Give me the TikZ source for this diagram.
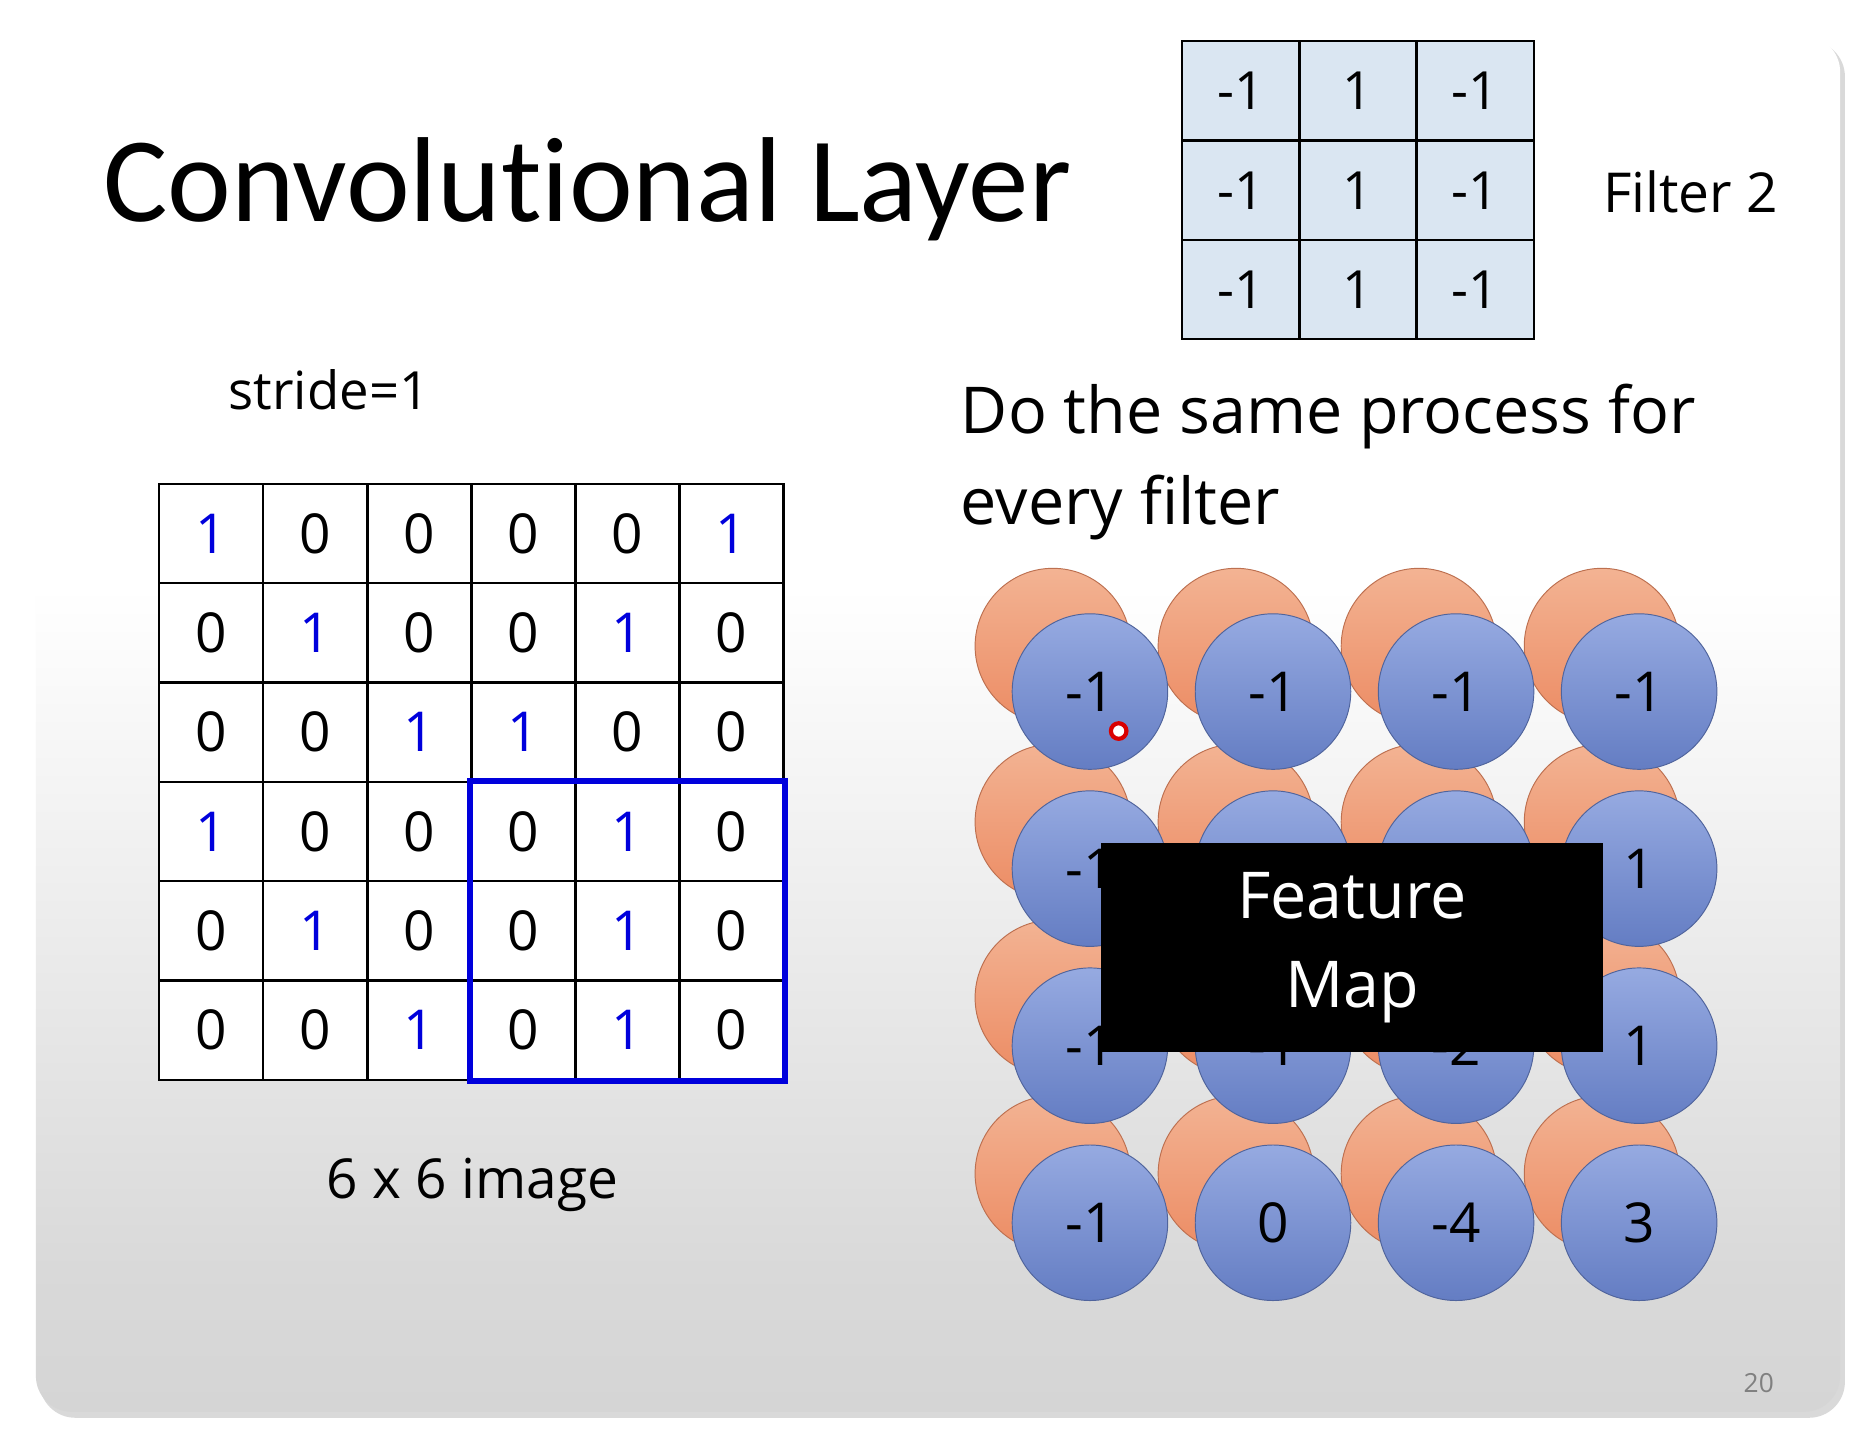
\documentclass[tikz,border=0pt]{standalone}
\usepackage{fontspec}
\setmainfont{Open Sans}
\newfontfamily\titlefont{Carlito}[Ligatures=NoCommon]
\newcommand{\fsz}[1]{\fontsize{#1}{#1}\selectfont}
\definecolor{fblue}{RGB}{218,230,242}
\definecolor{oc}{RGB}{240,160,120}
\definecolor{ocd}{RGB}{236,140,100}
\definecolor{bc}{RGB}{150,170,225}
\definecolor{bcd}{RGB}{100,125,195}
\definecolor{bblue}{RGB}{0,0,220}
\pgfdeclareverticalshading{slide}{100bp}{color(0bp)=(gray!48); color(30bp)=(gray!30); color(55bp)=(white); color(100bp)=(white)}
\begin{document}
\begin{tikzpicture}[x=1pt,y=-1pt,
  cell/.style={draw=black,fill=white,line width=2pt,minimum width=87pt,minimum height=83pt,inner sep=0pt,font=\fsz{46}},
  fcell/.style={draw=black,line width=2pt,fill=fblue,minimum width=98pt,minimum height=83pt,inner sep=0pt,font=\fsz{44}},
  oc/.style={circle,draw=ocd!80!black,line width=0.8pt,top color=oc!80!white,bottom color=ocd,minimum size=130pt,inner sep=0pt},
  bc/.style={circle,draw=bcd!80!black,line width=0.8pt,top color=bc,bottom color=bcd,minimum size=130pt,inner sep=0pt,font=\fsz{46}},
  lbl/.style={inner sep=0pt}]
\useasboundingbox (0,0) rectangle (1568,1210);
\fill[white] (0,0) rectangle (1568,1210);
\fill[gray!30,rounded corners=30pt] (33,34) rectangle (1542,1185);
\shade[shading=slide,rounded corners=30pt] (30,30) rectangle (1538,1180);
% title
\node[lbl,anchor=base west,font=\titlefont\fsz{101}] (title) at (86,185) {Convolutional Layer};
% filter
\foreach \r/\a/\b/\c in {0/-1/1/-1,1/-1/1/-1,2/-1/1/-1}{
  \node[fcell] (f\r a) at (1037,{76+83*\r}) {\a};
  \node[fcell] (f\r b) at (1135,{76+83*\r}) {\b};
  \node[fcell] (f\r c) at (1233,{76+83*\r}) {\c};
}
\node[lbl,font=\fsz{46}] (fl) at (1413,160) {Filter 2};
\node[lbl,anchor=base,font=\fsz{44}] (stride) at (275,342) {stride=1};
% image
\foreach \r/\row in {0/{1,0,0,0,0,1},1/{0,1,0,0,1,0},2/{0,0,1,1,0,0},3/{1,0,0,0,1,0},4/{0,1,0,0,1,0},5/{0,0,1,0,1,0}}{
  \foreach \v [count=\c from 0] in \row {
    \ifnum\v=1 \def\tc{bblue}\else\def\tc{black}\fi
    \node[cell,text=\tc] (m\r\c) at ({176.5+87*\c},{446+83*\r}) {\v};
  }
}
\draw[bblue,line width=5pt] (m33.north west) rectangle (m55.south east);
\node[lbl,font=\fsz{46}] (cap) at (395,990) {6 x 6 image};
\node[lbl,anchor=base west,font=\fsz{54}] (t1) at (803,362) {Do the same process for};
\node[lbl,anchor=base west,font=\fsz{54}] (t2) at (803,438) {every filter};
% circles
\foreach \i in {0,...,3}{\foreach \j in {0,...,3}{
  \node[oc] (o\i\j) at ({880+153*\j},{540+147*\i}) {};
}}
\foreach \i/\row in {0/{-1,-1,-1,-1},1/{-1,,,1},2/{-1,-1,-2,1},3/{-1,0,-4,3}}{
  \foreach \v [count=\j from 0] in \row {
    \node[bc] (b\i\j) at ({911+153*\j},{578+148*\i}) {\v};
  }
}
\draw[red!85!black,fill=white,line width=3.5pt] (935,611) circle (6.5pt);
\node[fill=black,minimum width=420pt,minimum height=175pt,inner sep=0pt,text=white,align=center,font=\fsz{54}] (fm) at (1130,792) {Feature\\[20pt]Map};
\node[lbl,text=gray,font=\fsz{22}] (pg) at (1470,1156) {20};
\end{tikzpicture}
\end{document}
